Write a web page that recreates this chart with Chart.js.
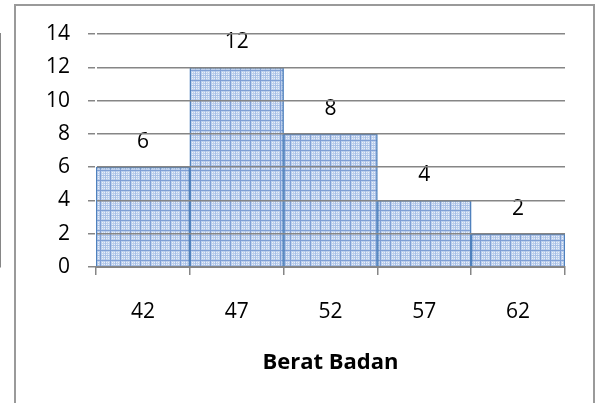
<!DOCTYPE html>
<html>
<head>
<meta charset="utf-8">
<script src="https://cdn.jsdelivr.net/npm/chart.js@4.4.0/dist/chart.umd.min.js"></script>
<style>
  html, body { margin: 0; padding: 0; background: #fff; overflow: hidden; }
  canvas { display: block; }
</style>
</head>
<body>
<canvas id="chart" width="600" height="403"></canvas>
<script>
// Histogram: Berat Badan
const categories = ['42', '47', '52', '57', '62'];
const counts = [6, 12, 8, 4, 2];
const yTicks = [0, 2, 4, 6, 8, 10, 12, 14];

const FONT = '"Open Sans", Lato, sans-serif';

function makePattern() {
    const p = document.createElement('canvas');
    p.width = 10;
    p.height = 10;
    const c = p.getContext('2d');
    c.fillStyle = '#bccfec';
    c.fillRect(0, 0, 10, 10);
    c.fillStyle = '#eaf0f9';
    for (let i = 2; i < 10; i += 2) {
        for (let j = 2; j < 10; j += 2) c.fillRect(i, j, 1, 1);
    }
    c.fillStyle = '#a7bfe6';
    c.fillRect(0, 5, 10, 1);
    c.fillRect(5, 0, 1, 10);
    c.fillStyle = '#7f9fd5';
    c.fillRect(0, 0, 10, 1);
    c.fillRect(0, 0, 1, 10);
    return c.createPattern(p, 'repeat');
}

// outer chart frame
const frame = {
    id: 'frame',
    afterDraw(chart) {
        const c = chart.ctx;
        c.save();
        c.strokeStyle = '#9a9a9a';
        c.lineWidth = 2;
        c.strokeRect(15, 5, 579, 420);
        c.restore();
    }
};

const valueLabels = {
    id: 'valueLabels',
    afterDatasetsDraw(chart) {
        const c = chart.ctx;
        const meta = chart.getDatasetMeta(0);
        c.save();
        c.fillStyle = '#000';
        c.font = '21px ' + FONT;
        c.textAlign = 'center';
        c.textBaseline = 'middle';
        meta.data.forEach((bar, i) => {
            c.fillText(String(counts[i]), bar.x, bar.y - 25);
        });
        c.restore();
    }
};

const ctx = document.getElementById('chart').getContext('2d');
new Chart(ctx, {
    type: 'bar',
    data: {
        labels: categories,
        datasets: [{
            data: counts,
            backgroundColor: makePattern(),
            borderColor: '#4f81bd',
            borderWidth: 1.5,
            categoryPercentage: 1,
            barPercentage: 1
        }]
    },
    options: {
        responsive: false,
        animation: false,
        layout: { padding: { left: 20, right: 35, top: 34, bottom: 20 } },
        plugins: {
            legend: { display: false },
            tooltip: { enabled: false }
        },
        scales: {
            x: {
                grid: {
                    offset: true,
                    drawOnChartArea: false,
                    drawTicks: true,
                    tickLength: 8,
                    color: '#868686',
                    lineWidth: 1.5
                },
                border: { color: '#868686', width: 2 },
                ticks: { color: '#000', padding: 24, font: { family: FONT, size: 21 } },
                title: {
                    display: true,
                    text: 'Berat Badan',
                    color: '#000',
                    font: { family: FONT, size: 22, weight: 'bold' },
                    padding: { top: 10, bottom: 7 }
                },
                afterFit(scale) { scale.height = 403 - 267 - 20; }
            },
            y: {
                min: 0,
                max: 14,
                afterBuildTicks(scale) { scale.ticks = yTicks.map(v => ({ value: v })); },
                grid: {
                    z: 1,
                    color: '#868686',
                    lineWidth: 1.5,
                    tickLength: 8
                },
                border: { color: '#868686', width: 2 },
                ticks: { color: '#000', padding: 18, font: { family: FONT, size: 21 } },
                afterFit(scale) { scale.width = 96 - 20; }
            }
        }
    },
    plugins: [frame, valueLabels]
});
</script>
</body>
</html>
